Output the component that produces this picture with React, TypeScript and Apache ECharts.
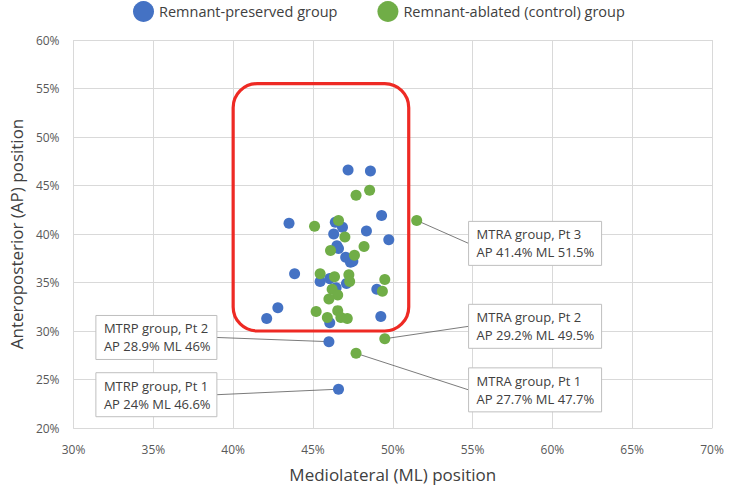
import React, { useEffect, useRef } from "react";
import * as echarts from "echarts";

// Data (percent)
const preservedML = [47.2, 48.6, 49.3, 43.5, 46.4, 46.85, 48.35, 49.75, 46.3, 46.5, 46.6, 47.05, 47.35, 47.5, 43.85, 45.45, 46.05, 46.45, 47.1, 49.0, 42.8, 42.1, 46.05, 49.25];
const preservedAP = [46.6, 46.5, 41.9, 41.1, 41.2, 40.7, 40.3, 39.4, 40.0, 38.8, 38.5, 37.6, 37.1, 37.2, 35.9, 35.1, 35.4, 34.45, 34.9, 34.3, 32.4, 31.3, 30.85, 31.5];
const ablatedML = [47.7, 48.55, 45.1, 46.6, 47.0, 48.2, 46.1, 47.6, 45.45, 46.35, 47.25, 47.3, 49.5, 46.2, 46.55, 46.0, 49.35, 45.2, 46.55, 45.9, 46.75, 47.15];
const ablatedAP = [44.0, 44.5, 40.8, 41.4, 39.7, 38.7, 38.3, 37.8, 35.9, 35.6, 35.8, 35.1, 35.3, 34.3, 33.7, 33.3, 34.1, 32.0, 32.1, 31.4, 31.4, 31.3];

// Annotated patients
const annotGroup = ["MTRP", "MTRP", "MTRA", "MTRA", "MTRA"];
const annotPt = [2, 1, 3, 2, 1];
const annotML = [46, 46.6, 51.5, 49.5, 47.7];
const annotAP = [28.9, 24, 41.4, 29.2, 27.7];

// Layout of annotation boxes (in data units for anchor)
const boxLeftML = [31.4, 31.4, 54.75, 54.75, 54.75];
const boxTopAP = [31.6, 25.7, 41.3, 32.75, 26.2];
const boxSide = ["left", "left", "right", "right", "right"];
const boxW = [121, 121, 133, 133, 133];
const boxH = 44;

// Highlight region
const regionML = [40, 51];
const regionAP = [30, 55.5];

const BLUE = "#4472C4";
const GREEN = "#70AD47";
const FONT = "'Open Sans', sans-serif";

export default function App() {
  const ref = useRef<HTMLDivElement>(null);
  useEffect(() => {
    document.body.style.margin = "0";
    if (!ref.current) return;
    const chart = echarts.init(ref.current, null, { renderer: "svg" });

    const blueData = preservedML.map((m, i) => [m, preservedAP[i]]);
    const greenData = ablatedML.map((m, i) => [m, ablatedAP[i]]);
    annotGroup.forEach((g, i) => {
      if (g === "MTRP") blueData.push([annotML[i], annotAP[i]]);
      else greenData.push([annotML[i], annotAP[i]]);
    });

    chart.setOption({
      animation: false,
      textStyle: { fontFamily: FONT },
      legend: {
        top: 1,
        left: 133,
        padding: 0,
        icon: "circle",
        itemWidth: 21,
        itemHeight: 21,
        itemGap: 40,
        textStyle: { fontSize: 14.5, color: "#404040", fontFamily: FONT },
        data: ["Remnant-preserved group", "Remnant-ablated (control) group"],
      },
      grid: { left: 69, right: 17, top: 40, bottom: 58, containLabel: false },
      xAxis: {
        type: "value",
        min: 30,
        max: 70,
        interval: 5,
        name: "Mediolateral (ML) position",
        nameLocation: "middle",
        nameGap: 38,
        nameTextStyle: { fontSize: 17, color: "#404040" },
        axisLine: { show: true, lineStyle: { color: "#d9d9d9" } },
        axisTick: { show: false },
        axisLabel: { formatter: "{value}%", color: "#595959", fontSize: 12, margin: 15 },
        splitLine: { show: true, lineStyle: { color: "#d9d9d9" } },
      },
      yAxis: {
        type: "value",
        min: 20,
        max: 60,
        interval: 5,
        name: "Anteroposterior (AP) position",
        nameLocation: "middle",
        nameGap: 48,
        nameTextStyle: { fontSize: 17, color: "#404040" },
        axisLine: { show: false },
        axisTick: { show: false },
        axisLabel: { formatter: "{value}%", color: "#595959", fontSize: 12, margin: 14 },
        splitLine: { show: true, lineStyle: { color: "#d9d9d9" } },
      },
      series: [
        {
          name: "Remnant-preserved group",
          type: "scatter",
          symbolSize: 11,
          itemStyle: { color: BLUE, opacity: 1 },
          data: blueData,
          z: 3,
        },
        {
          name: "Remnant-ablated (control) group",
          type: "scatter",
          symbolSize: 11,
          itemStyle: { color: GREEN, opacity: 1 },
          data: greenData,
          z: 3,
        },
      ],
    });

    const px = (ml: number, ap: number) =>
      chart.convertToPixel({ xAxisIndex: 0, yAxisIndex: 0 }, [ml, ap]) as number[];

    const graphics: any[] = [];
    const r0 = px(regionML[0], regionAP[1]);
    const r1 = px(regionML[1], regionAP[0]);
    graphics.push({
      type: "rect",
      z: 1,
      shape: { x: r0[0], y: r0[1], width: r1[0] - r0[0], height: r1[1] - r0[1], r: 24 },
      style: { fill: "none", stroke: "#EE2A24", lineWidth: 3.2 },
    });

    annotGroup.forEach((g, i) => {
      const p = px(annotML[i], annotAP[i]);
      const b = px(boxLeftML[i], boxTopAP[i]);
      const left = b[0];
      const top = b[1];
      const mid = top + boxH / 2;
      const edgeX = boxSide[i] === "left" ? left + boxW[i] : left;
      graphics.push({
        type: "line",
        z: 1,
        shape: { x1: edgeX, y1: mid, x2: p[0], y2: p[1] },
        style: { stroke: "#595959", lineWidth: 0.8 },
      });
      graphics.push({
        type: "rect",
        z: 4,
        shape: { x: left, y: top, width: boxW[i], height: boxH },
        style: { fill: "#ffffff", stroke: "#bfbfbf", lineWidth: 1 },
      });
      graphics.push({
        type: "text",
        z: 5,
        x: left + 8,
        y: top + 4,
        style: {
          text: `${g} group, Pt ${annotPt[i]}\nAP ${annotAP[i]}% ML ${annotML[i]}%`,
          font: `13px ${FONT}`,
          fill: "#404040",
          lineHeight: 18,
          verticalAlign: "top",
        },
      });
    });

    chart.setOption({ graphic: graphics });

    return () => chart.dispose();
  }, []);
  return <div ref={ref} style={{ width: 729, height: 488 }} />;
}
